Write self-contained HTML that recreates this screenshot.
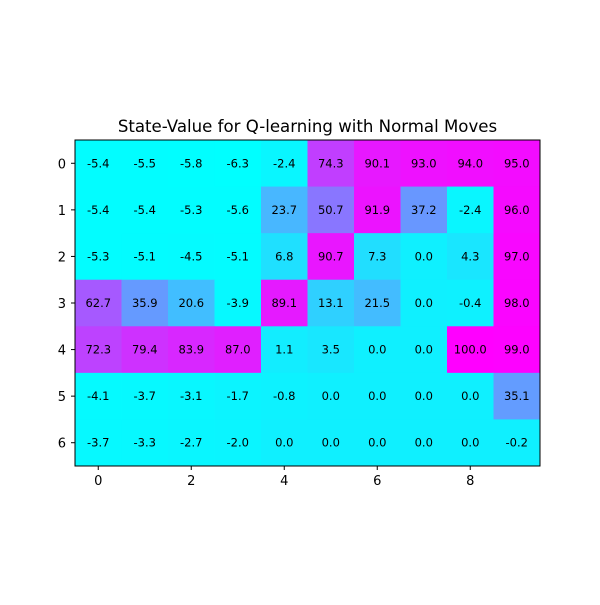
<!DOCTYPE html>
<html><head><meta charset="utf-8"><style>
body{margin:0;background:#fff}
svg text{font-family:"DejaVu Sans","Liberation Sans",sans-serif}
</style></head><body>
<svg id="c" width="600" height="600" xmlns="http://www.w3.org/2000/svg">
<rect width="600" height="600" fill="#fff"/>
<text x="307.5" y="132" font-size="16.6" text-anchor="middle">State-Value for Q-learning with Normal Moves</text>
<g id="cells"></g>
<g id="axes"></g>
</svg>
<script>
const values = [
[-5.4,-5.5,-5.8,-6.3,-2.4,74.3,90.1,93.0,94.0,95.0],
[-5.4,-5.4,-5.3,-5.6,23.7,50.7,91.9,37.2,-2.4,96.0],
[-5.3,-5.1,-4.5,-5.1,6.8,90.7,7.3,0.0,4.3,97.0],
[62.7,35.9,20.6,-3.9,89.1,13.1,21.5,0.0,-0.4,98.0],
[72.3,79.4,83.9,87.0,1.1,3.5,0.0,0.0,100.0,99.0],
[-4.1,-3.7,-3.1,-1.7,-0.8,0.0,0.0,0.0,0.0,35.1],
[-3.7,-3.3,-2.7,-2.0,0.0,0.0,0.0,0.0,0.0,-0.2]
];
const xTicks = [0,2,4,6,8];
const yTicks = [0,1,2,3,4,5,6];
const NS="http://www.w3.org/2000/svg";
const L=75,T=140,W=465,H=326;
const nr=values.length,nc=values[0].length;
const cw=W/nc,ch=H/nr;
const xs=i=>L+cw*(i+0.5), ys=j=>T+ch*(j+0.5);
const flat=values.flat(),mn=Math.min(...flat),mx=Math.max(...flat);
function col(v){const t=(v-mn)/(mx-mn);return `rgb(${Math.round(t*255)},${Math.round((1-t)*255)},255)`;}
function mk(tag,a,p){const e=document.createElementNS(NS,tag);for(const k in a)e.setAttribute(k,a[k]);p.appendChild(e);return e;}
const cells=document.getElementById('cells'),axes=document.getElementById('axes');
values.forEach((row,j)=>row.forEach((v,i)=>{
 const r=mk('rect',{x:xs(i)-cw/2,y:ys(j)-ch/2,width:cw+0.5,height:ch+0.5,fill:col(v)},cells);
 
 
 const t=mk('text',{x:xs(i),y:ys(j)+4,'font-size':11.5,'text-anchor':'middle',fill:'#000'},cells);
 t.textContent=v.toFixed(1);
 
 
}));
const fr=mk('rect',{x:L,y:T,width:W,height:H,fill:'none',stroke:'#000','stroke-width':1},axes);


xTicks.forEach(v=>{
 mk('line',{x1:xs(v),x2:xs(v),y1:T+H,y2:T+H+4,stroke:'#000'},axes);
 const t=mk('text',{x:xs(v),y:T+H+19,'font-size':13,'text-anchor':'middle'},axes);
 t.textContent=v;
 
 
});
yTicks.forEach(v=>{
 mk('line',{x1:L-4,x2:L,y1:ys(v),y2:ys(v),stroke:'#000'},axes);
 const t=mk('text',{x:L-9,y:ys(v)+5,'font-size':13,'text-anchor':'end'},axes);
 t.textContent=v;
 
 
});
</script>
</body></html>
